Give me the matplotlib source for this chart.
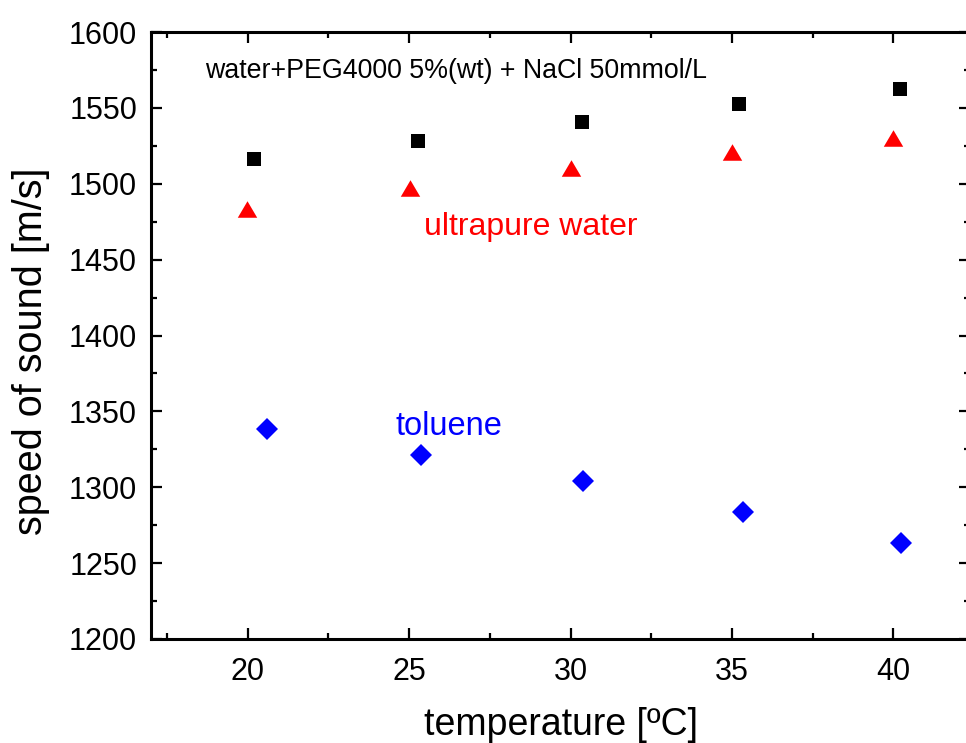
import matplotlib
matplotlib.use("Agg")
import matplotlib.pyplot as plt
from matplotlib.ticker import MultipleLocator

plt.rcParams['font.family'] = ['Liberation Sans', 'DejaVu Sans']

# data
t_peg = [20.19, 25.27, 30.35, 35.23, 40.20]
v_peg = [1516.1, 1528.4, 1540.5, 1552.4, 1562.6]
t_water = [19.98, 25.02, 30.0, 34.99, 40.0]
v_water = [1483.4, 1497.4, 1510.6, 1520.9, 1530.0]
t_tol = [20.60, 25.37, 30.38, 35.34, 40.25]
v_tol = [1338.6, 1321.3, 1304.1, 1283.5, 1263.5]

label_peg = 'water+PEG4000 5%(wt) + NaCl 50mmol/L'
label_water = 'ultrapure water'
label_tol = 'toluene'

fig = plt.figure(figsize=(9.66, 7.43), dpi=100)
ax = fig.add_axes([151/966, 104/743, 819/966, 607/743])

tri = [(-1, -0.85), (1, -0.85), (0, 0.85), (-1, -0.85)]
ax.plot(t_peg, v_peg, ls='none', marker='s', ms=9.6, mew=0, color='black')
ax.plot(t_water, v_water, ls='none', marker=tri, ms=14, mew=0, color='red')
ax.plot(t_tol, v_tol, ls='none', marker='D', ms=11, mew=0, color='blue')

ax.set_xlim(17, 42.38)
ax.set_ylim(1200, 1600)
ax.xaxis.set_major_locator(MultipleLocator(5))
ax.xaxis.set_minor_locator(MultipleLocator(2.5))
ax.yaxis.set_major_locator(MultipleLocator(50))
ax.yaxis.set_minor_locator(MultipleLocator(25))

for s in ax.spines.values():
    s.set_linewidth(2.2)
ax.tick_params(which='both', direction='in', top=True, right=True, width=1.6)
ax.tick_params(which='major', length=8, labelsize=22)
ax.tick_params(which='minor', length=4.5)
ax.tick_params(axis='x', which='major', pad=13)
ax.tick_params(axis='y', which='major', pad=10)

ax.set_xlabel('temperature [ºC]', fontsize=27)
ax.set_ylabel('speed of sound [m/s]', fontsize=28.5)
ax.xaxis.set_label_coords(0.5, -0.112)
ax.yaxis.set_label_coords(-0.1233, 0.474)

ax.text(18.69, 1569.7, label_peg, fontsize=19.3, color='black', va='baseline', ha='left')
ax.text(25.47, 1466.2, label_water, fontsize=23, color='red', va='baseline', ha='left')
ax.text(24.58, 1334.4, label_tol, fontsize=23.5, color='blue', va='baseline', ha='left')

fig.savefig('out.png', dpi=100)
